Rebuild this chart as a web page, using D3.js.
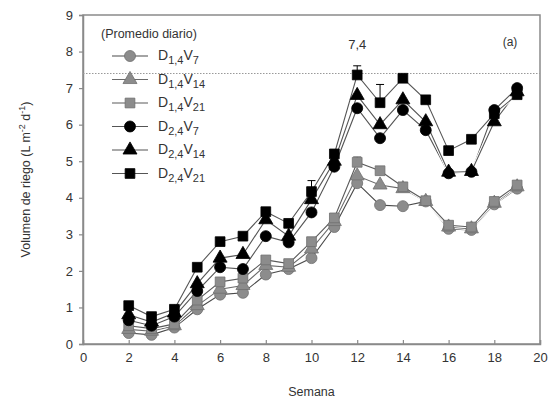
<!DOCTYPE html>
<html>
<head>
<meta charset="utf-8">
<script src="https://cdn.jsdelivr.net/npm/d3@7"></script>
<style>
  body { margin: 0; background: #fff; }
  svg text { font-family: "Liberation Sans", Arial, sans-serif; fill: #333; }
</style>
</head>
<body>
<div id="chart"></div>
<script>
// weeks and daily irrigation volumes (L m-2 d-1)
const weeks = [2, 3, 4, 5, 6, 7, 8, 9, 10, 11, 12, 13, 14, 15, 16, 17, 18, 19];
const d1v7  = [0.30, 0.25, 0.45, 0.95, 1.35, 1.40, 1.90, 2.05, 2.35, 3.20, 4.40, 3.80, 3.77, 3.90, 3.15, 3.12, 3.82, 4.25];
const d1v14 = [0.40, 0.35, 0.50, 1.05, 1.50, 1.60, 2.15, 2.10, 2.60, 3.35, 4.60, 4.35, 4.25, 3.90, 3.20, 3.15, 3.85, 4.30];
const d1v21 = [0.50, 0.42, 0.55, 1.20, 1.70, 1.80, 2.30, 2.20, 2.80, 3.45, 4.97, 4.74, 4.30, 3.92, 3.25, 3.20, 3.90, 4.35];
const d2v7  = [0.65, 0.50, 0.75, 1.45, 2.10, 2.05, 2.95, 2.78, 3.60, 4.85, 6.45, 5.63, 6.40, 5.85, 4.67, 4.71, 6.40, 7.00];
const d2v14 = [0.80, 0.60, 0.85, 1.65, 2.35, 2.45, 3.40, 2.95, 3.95, 5.00, 6.80, 6.00, 6.68, 6.08, 4.70, 4.72, 6.08, 6.90];
const d2v21 = [1.05, 0.75, 0.95, 2.10, 2.80, 2.95, 3.62, 3.30, 4.17, 5.20, 7.36, 6.60, 7.27, 6.68, 5.29, 5.60, 6.30, 6.82];
// standard errors shown as small bars
const errD1v21 = [0, 0, 0, 0, 0, 0, 0, 0, 0, 0, 0.15, 0, 0, 0, 0, 0, 0, 0];
const errD2v21 = [0.05, 0, 0, 0, 0, 0, 0.1, 0, 0.3, 0, 0.25, 0.5, 0, 0.1, 0, 0, 0, 0];

const seriesNames = ["D1,4V7", "D1,4V14", "D1,4V21", "D2,4V7", "D2,4V14", "D2,4V21"];
const seriesValues = [d1v7, d1v14, d1v21, d2v7, d2v14, d2v21];
const seriesErrors = [null, null, errD1v21, null, null, errD2v21];
const refValue = 7.4;
const refLabel = "7,4";

const xTicks = [0, 2, 4, 6, 8, 10, 12, 14, 16, 18, 20];
const yTicks = [0, 1, 2, 3, 4, 5, 6, 7, 8, 9];

const width = 548, height = 405;
const margin = { top: 15, right: 8, bottom: 61, left: 83 };

const x = d3.scaleLinear().domain([0, 20]).range([margin.left, width - margin.right]);
const y = d3.scaleLinear().domain([0, 9]).range([height - margin.bottom, margin.top]);

const svg = d3.select("#chart").append("svg")
    .attr("width", width)
    .attr("height", height);

const frameColor = "#8a8a8a";

// frame
svg.append("rect")
    .attr("x", x(0)).attr("y", y(9))
    .attr("width", x(20) - x(0)).attr("height", y(0) - y(9))
    .attr("fill", "none")
    .attr("stroke", frameColor)
    .attr("stroke-width", 1.5);

// axes
const xAxis = svg.append("g")
    .attr("transform", `translate(0,${y(0)})`)
    .call(d3.axisBottom(x).tickValues(xTicks).tickSize(-4).tickPadding(9));
const yAxis = svg.append("g")
    .attr("transform", `translate(${x(0)},0)`)
    .call(d3.axisLeft(y).tickValues(yTicks).tickSize(4).tickPadding(6));

[xAxis, yAxis].forEach(g => {
    g.select(".domain").attr("stroke", frameColor).attr("stroke-width", 1.5);
    g.selectAll(".tick line").attr("stroke", frameColor).attr("stroke-width", 1.2);
    g.selectAll(".tick text").attr("font-size", 13).attr("fill", "#333");
});

// reference dotted line
svg.append("line")
    .attr("x1", x(0)).attr("x2", x(20))
    .attr("y1", y(refValue)).attr("y2", y(refValue))
    .attr("stroke", "#999")
    .attr("stroke-width", 1.2)
    .attr("stroke-dasharray", "1.5,1.5");

svg.append("text")
    .attr("x", x(12)).attr("y", y(refValue) - 24)
    .attr("text-anchor", "middle")
    .attr("font-size", 13)
    .text(refLabel);

svg.append("text")
    .attr("x", 510).attr("y", 46)
    .attr("text-anchor", "middle")
    .attr("font-size", 12)
    .text("(a)");

// axis titles
svg.append("text")
    .attr("x", (x(0) + x(20)) / 2).attr("y", 396)
    .attr("text-anchor", "middle")
    .attr("font-size", 12.5)
    .text("Semana");

const yTitle = svg.append("text")
    .attr("transform", `translate(30,${(y(0) + y(9)) / 2}) rotate(-90)`)
    .attr("text-anchor", "middle")
    .attr("font-size", 12.5);
yTitle.append("tspan").text("Volumen de riego (L m");
yTitle.append("tspan").attr("dy", -5).attr("font-size", 9).text("-2");
yTitle.append("tspan").attr("dy", 5).text(" d");
yTitle.append("tspan").attr("dy", -5).attr("font-size", 9).text("-1");
yTitle.append("tspan").attr("dy", 5).text(")");

// markers
const styles = [
    { shape: d3.symbolCircle, fill: "#8c8c8c", stroke: "#707070", line: "#4a4a4a", size: 95 },
    { shape: d3.symbolTriangle, fill: "#8c8c8c", stroke: "#707070", line: "#6a6a6a", size: 85 },
    { shape: d3.symbolSquare, fill: "#8c8c8c", stroke: "#707070", line: "#5a5a5a", size: 95 },
    { shape: d3.symbolCircle, fill: "#000", stroke: "#000", line: "#555", size: 95 },
    { shape: d3.symbolTriangle, fill: "#000", stroke: "#000", line: "#555", size: 85 },
    { shape: d3.symbolSquare, fill: "#000", stroke: "#000", line: "#555", size: 95 }
];

const line = d3.line()
    .x((d, i) => x(weeks[i]))
    .y(d => y(d));

// lines with white halo, drawn first
seriesValues.forEach((vals, k) => {
    svg.append("path")
        .datum(vals)
        .attr("d", line)
        .attr("fill", "none")
        .attr("stroke", "#fff")
        .attr("stroke-width", 3);
    svg.append("path")
        .datum(vals)
        .attr("d", line)
        .attr("fill", "none")
        .attr("stroke", styles[k].line)
        .attr("stroke-width", 1.1);
});

// error bars
seriesValues.forEach((vals, k) => {
    const err = seriesErrors[k];
    if (!err) return;
    const pts = vals.map((v, i) => ({ w: weeks[i], v: v, e: err[i] })).filter(d => d.e > 0);
    const g = svg.append("g").attr("stroke", styles[k].stroke).attr("stroke-width", 1);
    g.selectAll("line.v").data(pts).join("line")
        .attr("x1", d => x(d.w)).attr("x2", d => x(d.w))
        .attr("y1", d => y(d.v)).attr("y2", d => y(d.v + d.e));
    g.selectAll("line.c").data(pts).join("line")
        .attr("x1", d => x(d.w) - 4).attr("x2", d => x(d.w) + 4)
        .attr("y1", d => y(d.v + d.e)).attr("y2", d => y(d.v + d.e));
});

// symbols
seriesValues.forEach((vals, k) => {
    const st = styles[k];
    svg.append("g").selectAll("path")
        .data(vals)
        .join("path")
        .attr("transform", (d, i) => `translate(${x(weeks[i])},${y(d)})`)
        .attr("d", d3.symbol().type(st.shape).size(st.size))
        .attr("fill", st.fill)
        .attr("stroke", st.stroke)
        .attr("stroke-width", 0.8);
});

// legend
const legend = svg.append("g").attr("transform", "translate(0,0)");
legend.append("text")
    .attr("x", 101).attr("y", 38)
    .attr("font-size", 12.5)
    .text("(Promedio diario)");

const legendRows = legend.selectAll("g.row")
    .data(seriesNames)
    .join("g")
    .attr("transform", (d, i) => `translate(0,${56 + i * 23.5})`);

legendRows.append("line")
    .attr("x1", 112).attr("x2", 148)
    .attr("stroke", (d, i) => styles[i].line)
    .attr("stroke-width", 1.1);
legendRows.append("path")
    .attr("transform", "translate(130,0)")
    .attr("d", (d, i) => d3.symbol().type(styles[i].shape).size(styles[i].size)())
    .attr("fill", (d, i) => styles[i].fill)
    .attr("stroke", (d, i) => styles[i].stroke)
    .attr("stroke-width", 0.8);

legendRows.append("text")
    .attr("x", 158).attr("y", 4)
    .attr("font-size", 14)
    .each(function (d) {
        const m = d.match(/^D([\d,]+)V(\d+)$/);
        const t = d3.select(this);
        t.append("tspan").text("D");
        t.append("tspan").attr("dy", 4).attr("font-size", 11).text(m[1]);
        t.append("tspan").attr("dy", -4).text("V");
        t.append("tspan").attr("dy", 4).attr("font-size", 11).text(m[2]);
    });
</script>
</body>
</html>
